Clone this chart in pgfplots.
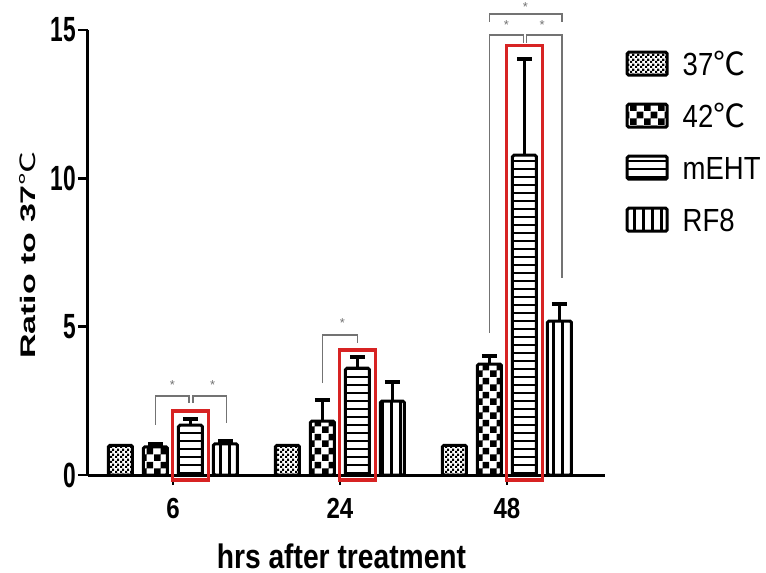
\documentclass[border=0pt]{standalone}
\usepackage{pgfplots}
\pgfplotsset{compat=1.18}
\usepackage{fontspec}
\setmainfont{Liberation Sans}
\newfontfamily\ytf{Liberation Sans}[FakeStretch=0.65]
\newfontfamily\xtf{Liberation Sans}[FakeStretch=0.83]
\newfontfamily\lgf{Liberation Sans}[FakeStretch=0.86]
\newfontfamily\cjk{Noto Sans CJK SC}
\usetikzlibrary{patterns}
\definecolor{brk}{RGB}{115,115,115}
\definecolor{boxred}{RGB}{215,35,35}

\pgfdeclarepatternformonly{finecheck}{\pgfpointorigin}{\pgfpoint{5bp}{5bp}}{\pgfpoint{5bp}{5bp}}{%
  \pgfpathrectangle{\pgfpointorigin}{\pgfpoint{2.5bp}{2.5bp}}%
  \pgfpathrectangle{\pgfpoint{2.5bp}{2.5bp}}{\pgfpoint{2.5bp}{2.5bp}}%
  \pgfusepath{fill}}
\pgfdeclarepatternformonly{coarsecheck}{\pgfpointorigin}{\pgfpoint{14bp}{14bp}}{\pgfpoint{14bp}{14bp}}{%
  \pgfpathrectangle{\pgfpointorigin}{\pgfpoint{7bp}{7bp}}%
  \pgfpathrectangle{\pgfpoint{7bp}{7bp}}{\pgfpoint{7bp}{7bp}}%
  \pgfusepath{fill}}
\pgfdeclarepatternformonly{hlinesp}{\pgfpoint{-1bp}{0bp}}{\pgfpoint{9bp}{8bp}}{\pgfpoint{8bp}{8bp}}{%
  \pgfsetlinewidth{1.5bp}%
  \pgfpathmoveto{\pgfpoint{-1bp}{4bp}}\pgfpathlineto{\pgfpoint{9bp}{4bp}}%
  \pgfusepath{stroke}}
\pgfdeclarepatternformonly{vlinesp}{\pgfpoint{0bp}{-1bp}}{\pgfpoint{9bp}{10bp}}{\pgfpoint{9bp}{9bp}}{%
  \pgfsetlinewidth{2.2bp}%
  \pgfpathmoveto{\pgfpoint{4.5bp}{-1bp}}\pgfpathlineto{\pgfpoint{4.5bp}{10bp}}%
  \pgfusepath{stroke}}

\begin{document}
\begin{tikzpicture}
\path[use as bounding box] (-88bp,-98bp) rectangle (678bp,475bp);
\begin{axis}[
  at={(0,0)}, anchor=south west,
  scale only axis, width=517bp, height=445bp,
  xmin=-0.509, xmax=2.587, ymin=0, ymax=15,
  axis x line*=bottom, axis y line*=left,
  axis line style={line width=3bp, black},
  ybar, bar width=24bp,
  xtick={0,1,2}, xticklabels={6,24,48},
  ytick={0,5,10,15},
  tick align=outside, major tick length=10bp,
  every tick/.style={black, line width=2.5bp},
  xticklabel style={font=\xtf\bfseries\fontsize{29bp}{29bp}\selectfont, inner sep=0pt, yshift=-13bp},
  yticklabel style={font=\ytf\bfseries\fontsize{35bp}{35bp}\selectfont, inner sep=2bp},
  /pgf/number format/assume math mode=true,
  clip=false,
  xlabel={\xtf\bfseries\fontsize{34bp}{34bp}\selectfont hrs after treatment},
  every axis x label/.style={at={(axis description cs:0.5,0)}, anchor=base, yshift=-93bp, xshift=-5bp, inner sep=0pt},
  ylabel={\scalebox{1}[0.62]{\bfseries\fontsize{34bp}{34bp}\selectfont Ratio to 37{\mdseries\cjk ℃}}},
  every axis y label/.style={at={(axis description cs:0,0.5)}, xshift=-60bp, yshift=-2.5bp, rotate=90, anchor=center, inner sep=0pt},
  error bars/error bar style={line width=3bp, black},
  error bars/error mark options={rotate=90, mark size=7.5bp, line width=4bp, black},
  legend style={draw=none, fill=none, at={(axis description cs:1,1)}, anchor=north west,
    xshift=20.5bp, yshift=-20.5bp, inner sep=0pt, row sep=26bp,
    font=\lgf\fontsize{32bp}{32bp}\selectfont,
    nodes={inner sep=0pt, text height=23bp, text depth=0pt, anchor=base west},
    /tikz/every odd column/.append style={column sep=14bp}},
  legend image code/.code={\draw[#1, line width=3bp, rounded corners=1.5bp] (0bp,0bp) rectangle (40bp,23bp);},
]
\addplot[draw=black, line width=3bp, pattern=finecheck, bar shift=-52.5bp, rounded corners=1.5bp]
  coordinates {(0,1) (1,1) (2,1)};
\addlegendentry{37{\cjk ℃}}
\addplot[draw=black, line width=3bp, pattern=coarsecheck, bar shift=-17.5bp, rounded corners=1.5bp,
  error bars/.cd, y dir=plus, y explicit]
  coordinates {(0,0.95) +- (0,0.1) (1,1.82) +- (0,0.71) (2,3.74) +- (0,0.27)};
\addlegendentry{42{\cjk ℃}}
\addplot[draw=black, line width=3bp, pattern=hlinesp, bar shift=17.5bp, rounded corners=1.5bp,
  error bars/.cd, y dir=plus, y explicit]
  coordinates {(0,1.68) +- (0,0.2) (1,3.6) +- (0,0.38) (2,10.78) +- (0,3.24)};
\addlegendentry{mEHT}
\addplot[draw=black, line width=3bp, pattern=vlinesp, bar shift=52.5bp, rounded corners=1.5bp,
  error bars/.cd, y dir=plus, y explicit]
  coordinates {(0,1.05) +- (0,0.1) (1,2.49) +- (0,0.64) (2,5.19) +- (0,0.57)};
\addlegendentry{RF8}

% red highlight boxes
\draw[boxred, line width=3.5bp] (axis cs:-0.003,-0.17) rectangle (axis cs:0.213,2.16);
\draw[boxred, line width=3.5bp] (axis cs:0.997,-0.17) rectangle (axis cs:1.213,4.22);
\draw[boxred, line width=3.5bp] (axis cs:1.997,-0.17) rectangle (axis cs:2.213,14.48);

% significance brackets
\draw[brk, line width=1.3bp] (axis cs:-0.105,1.69) |- (axis cs:0.095,2.66) -- (axis cs:0.095,2.43);
\draw[brk, line width=1.3bp] (axis cs:0.12,2.43) -- (axis cs:0.12,2.66) -| (axis cs:0.32,1.75);
\draw[brk, line width=1.3bp] (axis cs:0.895,3.1) |- (axis cs:1.105,4.72) -- (axis cs:1.105,4.45);
\draw[brk, line width=1.3bp] (axis cs:1.895,4.79) |- (axis cs:2.099,14.83) -- (axis cs:2.099,14.56);
\draw[brk, line width=1.3bp] (axis cs:2.117,14.56) -- (axis cs:2.117,14.83) -| (axis cs:2.33,6.64);
\draw[brk, line width=1.3bp] (axis cs:1.895,15.27) |- (axis cs:2.33,15.54) -- (axis cs:2.33,15.27);
\node[brk, font=\fontsize{13bp}{13bp}\selectfont] at (axis cs:-0.003,3.03) {*};
\node[brk, font=\fontsize{13bp}{13bp}\selectfont] at (axis cs:0.237,3.03) {*};
\node[brk, font=\fontsize{13bp}{13bp}\selectfont] at (axis cs:1.015,5.12) {*};
\node[brk, font=\fontsize{13bp}{13bp}\selectfont] at (axis cs:1.997,15.17) {*};
\node[brk, font=\fontsize{13bp}{13bp}\selectfont] at (axis cs:2.21,15.17) {*};
\node[brk, font=\fontsize{13bp}{13bp}\selectfont] at (axis cs:2.11,15.77) {*};
\end{axis}
\end{tikzpicture}
\end{document}
